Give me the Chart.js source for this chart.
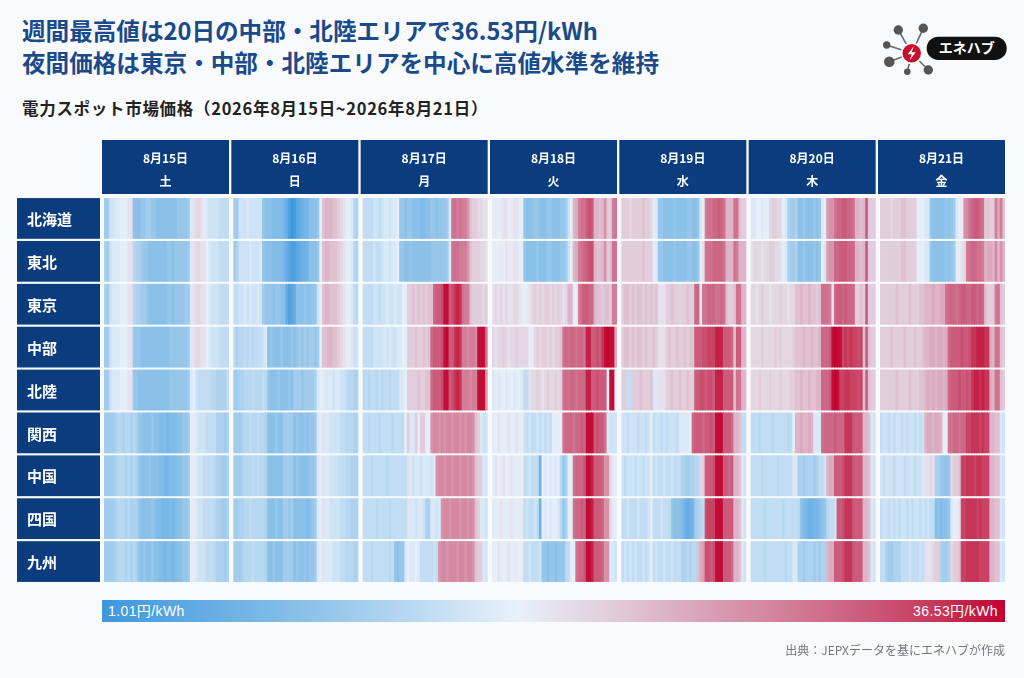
<!DOCTYPE html>
<html lang="ja">
<head>
<meta charset="utf-8">
<title>電力スポット市場価格</title>
<script src="https://cdn.jsdelivr.net/npm/chart.js@4.4.1/dist/chart.umd.min.js"></script>
<style>
  html, body { margin: 0; padding: 0; }
  body {
    width: 1024px; height: 678px; position: relative; overflow: hidden;
    background: #f9fafc;
    font-family: "Noto Sans CJK JP", "Noto Sans", sans-serif;
  }
  #heat { position: absolute; left: 0; top: 0; }
  .title {
    position: absolute; left: 22px; top: 14px; margin: 0;
    font-size: 23.6px; line-height: 32px; font-weight: 700; color: #1a4a8a;
  }
  .sub {
    position: absolute; left: 22px; top: 96px; font-size: 16.5px; font-weight: 700;
    color: #222; letter-spacing: 0.7px;
  }
  .logo { position: absolute; left: 878px; top: 16px; }
  .cbar { position: absolute; left: 102px; top: 600px; width: 903px; height: 22px; }
  .cbar span {
    position: absolute; top: 0; line-height: 22px; color: #fff; font-size: 14px;
    font-family: "Liberation Sans", "Noto Sans CJK JP", sans-serif; letter-spacing: 0.4px;
  }
  .src { position: absolute; right: 19px; top: 641px; font-size: 12px; color: #777; }
</style>
</head>
<body>
<h1 class="title">週間最高値は20日の中部・北陸エリアで36.53円/kWh<br>夜間価格は東京・中部・北陸エリアを中心に高値水準を維持</h1>
<svg class="logo" width="132" height="62" viewBox="0 0 132 62">
  <g stroke="#6a6a6a" stroke-width="1.6">
    <line x1="33.7" y1="37.3" x2="20.3" y2="14"/><line x1="33.7" y1="37.3" x2="45.3" y2="12.3"/>
    <line x1="33.7" y1="37.3" x2="8.7" y2="29"/><line x1="33.7" y1="37.3" x2="11.3" y2="45.7"/>
    <line x1="33.7" y1="37.3" x2="29.3" y2="55.7"/><line x1="33.7" y1="37.3" x2="50.3" y2="54"/>
  </g>
  <g fill="#555">
    <circle cx="20.3" cy="14" r="4.7"/><circle cx="45.3" cy="12.3" r="4.7"/>
    <circle cx="8.7" cy="29" r="3.7"/><circle cx="11.3" cy="45.7" r="5.3"/>
    <circle cx="29.3" cy="55.7" r="3.3"/><circle cx="50.3" cy="54" r="4.7"/>
  </g>
  <circle cx="33.7" cy="37.3" r="10" fill="#c8102e" stroke="#fff" stroke-width="1.5"/>
  <polygon points="35.7,30.3 29.7,38.3 33.7,38.3 31.7,44.3 37.7,36.3 33.7,36.3" fill="#fff"/>
  <rect x="48.7" y="20.7" width="80" height="23.3" rx="11.6" fill="#111"/>
  <text x="88.7" y="37.4" text-anchor="middle" fill="#fff" font-size="14" font-weight="700"
        font-family="Noto Sans CJK JP">エネハブ</text>
</svg>
<div class="sub">電力スポット市場価格（2026年8月15日~2026年8月21日）</div>
<canvas id="heat" width="1024" height="678"></canvas>
<div class="cbar" id="cbar"><span id="minLabel" style="left:6px"></span><span id="maxLabel" style="right:7px"></span></div>
<div class="src">出典：JEPXデータを基にエネハブが作成</div>
<script>
// 区分・日付
const regions = ['北海道', '東北', '東京', '中部', '北陸', '関西', '中国', '四国', '九州'];
const dates = ['8月15日', '8月16日', '8月17日', '8月18日', '8月19日', '8月20日', '8月21日'];
const weekdays = ['土', '日', '月', '火', '水', '木', '金'];

// 30分コマ毎の価格 (円/kWh)、1行 = 1日 48コマ
const hokkaido = [
  11,11,15,15,16,16,17,17,17,19,19,9,9,9,10,10,11,11,10,10,9,9,9,9,9,9,9,9,10,10,10,10,11,16,19,20,20,19,18,16,15,15,15,15,14,14,14,14,
  11,11,15,15,15,16,15,15,15,15,15,10,9,9,9,8,8,8,8,7,5,3,1.01,2,4,5,6,7,7,9,9,9,10,17,22,23,23,23,22,22,21,20,19,18,17,16,13,12,
  14,14,14,14,15,15,14,15,16,16,15,16,16,17,10,10,9,10,10,9,9,9,8,8,9,9,10,10,9,10,10,10,11,16,29,29,28,29,28,28,26,22,21,21,20,20,19,19,
  18,18,17,18,19,19,18,18,19,19,18,17,10,9,9,9,10,10,9,9,9,10,10,9,9,9,10,10,11,15,17,23,24,28,29,29,31,32,31,23,23,22,23,26,21,21,28,29,
  21,21,21,20,21,21,21,21,22,21,21,20,17,16,10,10,9,9,9,9,10,9,9,9,9,10,10,9,9,10,16,17,28,29,29,30,30,31,30,29,23,23,23,29,29,22,21,21,
  16,16,17,17,16,17,17,20,21,21,20,20,17,16,12,11,11,12,9,9,10,9,9,9,10,9,10,16,17,25,26,26,29,30,30,31,31,30,30,29,23,23,22,23,31,21,21,21,
  21,21,21,21,20,21,21,21,22,22,21,21,21,21,17,18,17,16,16,10,9,9,9,9,9,10,9,10,11,16,17,18,26,27,29,30,31,31,30,29,21,22,21,21,28,24,28,22
];
const tohoku = [
  12,11,15,16,16,16,17,17,17,19,19,13,12,12,11,10,10,9,9,9,9,9,9,9,10,10,9,10,10,10,10,10,11,16,19,20,20,19,19,17,16,15,15,15,14,14,14,14,
  11,12,15,15,15,15,16,15,15,15,16,10,9,9,9,8,8,8,8,7,5,4,3,3,4,5,6,6,7,9,9,9,10,17,22,23,23,22,22,22,21,20,19,18,17,16,13,12,
  14,14,14,14,15,14,14,15,16,16,15,16,16,17,10,10,9,9,10,9,9,9,9,9,9,9,10,10,10,10,10,10,11,16,29,29,29,28,28,28,26,22,21,21,21,20,20,19,
  17,17,18,18,18,19,18,18,19,19,18,17,10,9,9,9,9,10,9,9,9,10,10,9,9,9,10,10,11,15,17,23,24,28,29,30,31,32,32,23,22,22,23,26,21,22,29,29,
  21,21,21,21,21,21,21,21,22,21,21,21,17,16,10,10,9,9,9,9,10,9,9,9,9,10,10,9,9,10,18,19,29,29,29,30,30,30,30,29,23,23,23,29,28,23,23,23,
  19,20,20,20,19,20,20,21,21,20,20,19,17,16,12,11,11,12,9,9,10,9,9,9,10,9,10,17,19,25,26,26,30,30,31,31,31,30,30,30,23,23,22,23,31,21,21,21,
  21,21,21,21,21,21,21,21,22,22,21,21,21,21,17,18,17,16,16,10,9,9,9,9,9,10,9,10,11,17,18,19,20,28,29,30,30,29,29,28,23,24,24,23,27,23,26,23
];
const tokyo = [
  12,11,15,16,16,16,17,17,17,19,19,13,12,12,11,11,10,9,9,9,9,9,9,9,10,10,9,10,10,10,10,11,11,16,19,20,20,19,19,17,16,15,15,15,14,14,14,14,
  14,14,15,15,16,15,16,15,15,16,15,11,10,10,10,9,10,10,9,9,5,3,4,5,9,9,9,10,9,9,10,10,15,17,22,23,23,22,22,22,21,20,19,18,17,16,14,13,
  14,14,14,14,15,15,14,15,15,16,15,15,16,15,15,17,17,21,21,22,21,22,21,22,21,22,22,30,31,31,32,36,36,31,32,34,35,34,29,28,28,22,21,21,21,21,20,21,
  19,20,19,20,19,20,19,19,20,20,19,18,17,18,19,20,21,20,21,20,21,21,20,21,20,21,20,19,20,23,23,17,18,28,30,31,31,30,30,23,22,22,21,22,22,21,28,28,
  21,22,22,21,22,21,22,22,21,22,21,22,21,22,19,19,19,21,21,22,21,21,20,21,21,22,21,21,30,30,18,29,29,30,30,30,29,29,30,29,22,21,21,22,29,29,23,23,
  20,20,19,20,21,20,20,19,20,20,20,21,20,20,19,20,20,22,22,23,22,22,23,22,22,21,22,29,29,29,28,19,30,31,31,30,31,30,30,30,21,21,22,21,31,21,21,21,
  21,21,21,21,21,21,22,21,21,21,21,22,21,21,21,22,22,23,23,23,24,23,23,24,24,29,30,30,30,29,30,31,31,30,30,31,31,30,31,30,22,21,21,21,28,29,22,21
];
const chubu = [
  11,11,15,16,16,16,17,17,17,19,19,10,10,10,9,9,9,9,9,9,9,9,9,9,9,10,10,10,10,10,10,10,11,16,19,20,20,19,19,17,16,15,15,15,14,14,14,14,
  13,12,13,13,14,13,14,13,14,14,14,15,16,9,10,9,9,9,10,9,9,9,10,9,10,11,10,11,10,11,11,10,11,17,22,22,23,23,22,22,21,20,19,18,17,16,15,15,
  14,14,14,14,15,15,15,15,16,15,16,15,15,16,16,17,17,21,21,21,22,21,21,22,21,22,30,31,31,31,32,36,36.4,31,31,34,35,34,28,28,27,28,28,27,36,36,36,29,
  20,19,20,20,21,20,19,20,20,21,20,20,20,20,17,18,20,21,20,21,21,20,21,20,21,21,22,29,30,29,30,30,29,30,30,29,35,35,31,31,32,31,34,36,36.4,36,36,24,
  21,22,22,21,22,21,22,22,21,22,21,21,22,21,19,19,19,21,22,21,21,22,21,21,22,21,22,22,31,31,31,32,32,33,33,33,35,35,35,31,31,31,30,22,31,31,23,23,
  20,20,20,20,21,20,20,20,20,21,20,21,20,20,20,20,21,22,22,22,23,22,22,23,22,22,23,30,30,30,31,36,36.53,36,36,33,34,33,34,33,33,32,33,22,31,22,21,21,
  21,21,21,21,22,21,21,21,21,22,21,21,21,22,21,21,22,23,23,24,24,23,24,24,23,24,30,31,31,31,31,32,31,31,32,34,34,35,35,35,34,34,24,23,29,29,22,21
];
const hokuriku = [
  11,11,15,16,16,16,17,17,17,19,19,10,10,9,9,9,9,9,9,9,9,9,9,9,9,10,10,10,10,10,10,10,11,16,17,15,14,14,14,14,14,13,13,12,12,12,12,14,
  11,11,12,12,13,13,13,14,13,13,13,14,13,10,9,9,9,10,9,9,9,10,9,11,11,11,10,11,11,11,11,12,16,17,18,16,16,16,15,16,16,15,15,14,13,13,12,12,
  13,14,13,14,14,13,14,13,14,14,13,14,14,14,16,16,17,21,21,21,21,22,21,21,22,22,30,31,31,31,32,36,36,31,32,34,35,34,28,28,28,27,28,28,36,36,36,26,
  16,18,16,18,17,16,18,17,16,18,17,16,14,14,19,20,20,21,20,19,20,21,20,20,21,20,21,29,30,29,30,30,29,30,30,30,35,35,31,31,32,31,31,31,17,36,36,17,
  21,21,14,14,21,21,21,22,21,21,21,22,16,16,19,19,19,21,21,22,21,21,22,21,21,22,21,21,31,31,32,32,31,32,32,31,35,35,35,31,31,31,31,22,29,29,23,23,
  20,20,20,21,20,20,20,21,20,20,20,21,20,20,20,21,21,22,22,23,22,22,23,22,22,23,23,30,30,30,31,36,36.53,36,33,33,34,34,33,33,33,32,33,22,31,22,21,21,
  21,21,21,21,21,21,22,21,21,21,21,22,21,21,21,22,22,23,24,23,24,23,24,24,23,24,30,31,31,31,32,31,31,32,31,34,35,35,34,35,34,34,24,23,29,29,22,21
];
const kansai = [
  11,11,11,11,12,13,13,12,13,13,12,13,12,10,10,9,9,9,10,9,9,8,8,8,7,8,8,8,9,9,10,10,11,17,18,16,15,15,15,14,14,14,14,12,12,12,11,12,
  11,11,11,12,13,13,14,13,13,14,13,13,12,9,9,9,10,9,9,11,11,11,11,9,10,9,9,10,9,10,10,11,16,17,19,16,16,15,15,15,15,14,14,13,13,13,12,12,
  14,14,13,14,14,14,13,14,14,14,14,13,14,14,14,14,17,21,16,16,21,17,21,21,17,17,26,27,27,26,27,26,27,27,26,27,27,26,27,26,27,27,26,22,21,16,15,15,
  18,17,19,18,17,18,19,17,18,19,18,17,15,14,15,14,14,15,14,15,14,15,14,17,18,17,18,29,30,30,30,29,30,30,31,30,36,36,36,31,32,31,31,29,16,15,15,15,
  15,15,14,15,15,15,14,15,15,14,15,17,14,15,15,14,15,14,15,15,15,14,16,16,16,16,17,30,31,31,31,30,31,31,32,31,36,36,36,31,31,31,30,23,23,22,14,14,
  14,14,14,13,14,14,14,14,13,14,14,14,14,14,13,14,17,23,23,24,23,23,24,23,16,16,16,29,30,30,30,30,31,30,30,30,34,34,34,31,31,31,31,23,23,22,16,15,
  14,15,15,14,15,14,15,15,14,15,14,15,15,14,15,14,15,23,24,24,23,24,24,23,17,17,29,29,30,30,29,30,30,33,33,34,34,34,33,34,33,33,23,23,22,22,16,15
];
const chugoku = [
  11,11,11,11,12,13,13,13,12,13,12,13,12,10,9,9,9,10,9,9,9,8,8,7,7,8,8,8,9,9,10,10,11,17,18,16,15,15,14,14,14,14,13,12,12,11,11,12,
  11,11,11,12,13,13,13,14,13,14,13,13,12,9,9,9,9,9,9,11,11,11,11,9,10,9,9,9,9,10,10,11,16,17,19,16,16,15,15,15,14,14,14,13,13,12,12,12,
  14,14,14,13,14,14,14,14,14,13,14,14,14,14,14,14,14,19,16,15,16,16,15,16,16,16,15,16,26,27,27,26,27,27,26,27,27,26,27,27,26,27,26,22,21,21,16,15,
  18,19,17,18,19,17,18,19,18,17,18,18,14,14,15,14,14,14,6,17,16,17,16,17,16,17,13,10,12,17,17,29,30,30,30,31,36,36,35,31,31,31,30,26,26,20,18,17,
  15,14,15,15,15,14,15,15,14,15,15,17,14,15,14,14,15,14,14,15,14,14,14,12,12,11,12,12,13,13,20,21,31,31,31,32,36,36,36,31,31,30,31,23,23,22,16,15,
  14,14,14,14,13,14,14,14,14,14,13,14,14,14,14,14,16,16,12,12,11,12,12,12,11,12,14,14,15,23,24,24,31,31,31,32,34,34,34,31,31,31,31,23,23,22,16,15,
  15,14,15,15,15,14,15,15,15,14,15,15,15,14,15,15,16,19,19,20,19,12,12,10,10,9,10,20,21,21,22,33,33,34,34,34,33,34,34,33,33,33,23,23,22,22,16,15
];
const shikoku = [
  11,11,11,11,12,13,13,13,12,13,12,12,12,10,9,9,9,9,10,9,8,8,7,7,7,8,7,8,9,9,10,10,11,17,18,16,15,15,14,14,14,14,13,12,12,11,11,12,
  11,11,12,12,13,13,14,13,13,13,13,13,12,9,9,9,10,9,9,11,11,10,11,9,9,9,9,9,8,9,10,11,16,17,19,16,16,15,15,15,15,14,14,13,13,12,12,12,
  14,14,14,14,14,13,14,14,14,14,13,14,14,14,14,14,14,19,16,16,15,16,16,15,12,12,16,16,15,16,26,27,27,26,27,27,27,26,27,27,26,27,26,22,21,16,16,15,
  18,18,17,19,18,17,18,19,18,17,18,18,14,15,14,14,15,14,6,17,16,17,16,17,17,16,13,10,12,17,17,29,30,30,31,30,36,36,35,31,31,31,30,26,26,20,18,17,
  14,14,15,14,14,14,15,14,14,14,15,17,14,14,14,15,14,14,14,10,9,9,9,8,6,5,6,7,11,12,13,14,32,33,33,33,36,36,36,31,31,31,31,23,23,22,16,15,
  14,14,14,14,14,13,14,14,14,14,14,14,13,14,14,14,14,14,13,9,8,7,6,6,7,7,8,9,10,13,14,14,15,31,31,32,34,34,34,31,31,31,31,23,23,22,16,15,
  14,15,15,14,15,14,15,14,15,15,14,15,14,15,15,14,15,14,15,14,14,9,9,8,9,9,10,16,17,18,19,33,33,34,34,34,34,33,34,33,33,33,23,23,22,22,16,15
];
const kyushu = [
  11,11,11,11,12,13,13,13,12,13,12,13,12,10,9,10,9,9,10,9,9,8,8,7,8,8,7,8,9,9,10,10,11,17,18,16,15,15,15,14,14,14,13,12,12,12,11,12,
  11,11,11,12,13,13,13,14,13,13,13,13,12,9,9,10,9,9,9,11,11,11,11,9,10,9,9,10,9,10,10,11,16,17,19,16,16,16,15,15,15,14,14,13,13,13,12,12,
  14,14,14,13,14,14,14,14,14,14,13,14,10,9,10,10,16,17,16,16,17,16,14,14,14,14,14,15,14,26,27,27,26,27,27,27,26,27,27,26,27,27,26,22,21,21,16,15,
  18,17,19,18,17,18,19,17,18,18,17,18,14,14,15,14,14,14,15,10,10,9,10,10,9,10,10,10,13,14,17,17,29,30,30,31,36,36,35,31,31,31,30,26,26,16,16,15,
  14,15,14,15,14,15,14,14,15,14,15,17,14,15,14,14,15,14,14,15,14,14,14,12,12,13,12,13,13,22,24,25,32,32,31,32,36,36,36,31,31,31,30,23,23,22,16,15,
  14,14,14,14,14,13,14,14,14,14,14,14,14,13,14,14,16,16,12,12,11,12,12,12,11,12,11,12,12,23,24,24,31,31,31,32,34,34,34,31,31,31,31,23,23,22,16,15,
  14,14,12,11,11,12,12,12,14,14,14,15,14,14,14,15,14,19,19,19,20,21,21,12,11,11,12,20,21,21,22,33,33,34,34,34,34,34,33,33,33,33,23,23,22,22,16,15
];

const series = [hokkaido, tohoku, tokyo, chubu, hokuriku, kansai, chugoku, shikoku, kyushu];
const SLOTS = 48;
const GAP = 1.66;   // 日と日の間の余白 (コマ単位)
const NAVY = '#0b3d7e';

const allValues = series.flat();
const vMin = Math.min(...allValues);
const vMax = Math.max(...allValues);

// 青 → 白 → 赤
const stops = [
  [0, '#3d97dc'], [0.22, '#89c0e9'], [0.35, '#bcdaf2'], [0.46, '#e8f1fa'],
  [0.56, '#e2cedd'], [0.68, '#d99cb2'], [0.82, '#cd6685'], [0.92, '#c73a5c'], [1, '#c1032f']
];
function rgb(h) {
  return [1, 3, 5].map(i => parseInt(h.substr(i, 2), 16));
}
function colorFor(v) {
  const f = Math.max(0, Math.min(1, (v - vMin) / (vMax - vMin)));
  let i = 0;
  while (i < stops.length - 2 && f > stops[i + 1][0]) i++;
  const [f0, c0] = stops[i], [f1, c1] = stops[i + 1];
  const t = (f - f0) / (f1 - f0);
  const a = rgb(c0), b = rgb(c1);
  return 'rgb(' + a.map((x, k) => Math.round(x + (b[k] - x) * t)).join(',') + ')';
}

document.getElementById('cbar').style.background =
  'linear-gradient(to right,' + stops.map(s => s[1] + ' ' + (s[0] * 100) + '%').join(',') + ')';
document.getElementById('minLabel').textContent = vMin.toFixed(2) + '円/kWh';
document.getElementById('maxLabel').textContent = vMax.toFixed(2) + '円/kWh';

const datasets = series.map((vals, r) => ({
  label: regions[r],
  data: vals.map((v, i) => {
    const d = Math.floor(i / SLOTS), s = i % SLOTS;
    const x0 = d * (SLOTS + GAP) + s;
    return { x: [x0, x0 + (s < SLOTS - 1 ? 1.4 : 1)], y: regions[r], v: v };
  }),
  backgroundColor: c => colorFor(c.raw.v),
  borderWidth: 0,
  barPercentage: 1,
  categoryPercentage: 0.95,
  grouped: false
}));

// 列見出し (日付・曜日) と行見出し (エリア)
const headerPlugin = {
  id: 'headers',
  afterDraw(chart) {
    const { ctx, chartArea, scales: { x, y } } = chart;
    ctx.save();
    ctx.textAlign = 'center';
    ctx.textBaseline = 'middle';
    dates.forEach((label, d) => {
      const l = x.getPixelForValue(d * (SLOTS + GAP)) - 2;
      const r = x.getPixelForValue(d * (SLOTS + GAP) + SLOTS);
      const top = chartArea.top - 57;
      ctx.fillStyle = NAVY;
      ctx.fillRect(l, top, r - l, 54);
      ctx.fillStyle = '#fff';
      ctx.font = 'bold 12px "Noto Sans CJK JP"';
      ctx.fillText(label, (l + r) / 2, top + 18);
      ctx.fillText(weekdays[d], (l + r) / 2, top + 41);
    });
    const band = y.getPixelForValue(1) - y.getPixelForValue(0);
    const h = band * 0.95;
    ctx.textAlign = 'left';
    regions.forEach((name, r) => {
      const yc = y.getPixelForValue(r);
      ctx.fillStyle = NAVY;
      ctx.fillRect(17, yc - h / 2, 83, h);
      ctx.fillStyle = '#fff';
      ctx.font = 'bold 15px "Noto Sans CJK JP"';
      ctx.fillText(name, 27, yc + 1);
    });
    ctx.restore();
  }
};

new Chart(document.getElementById('heat'), {
  type: 'bar',
  data: { labels: regions, datasets: datasets },
  options: {
    indexAxis: 'y',
    responsive: false,
    animation: false,
    layout: { padding: { left: 104, top: 197, right: 19, bottom: 95 } },
    scales: {
      x: { type: 'linear', min: 0, max: 7 * SLOTS + 6 * GAP, display: false },
      y: { type: 'category', display: false }
    },
    plugins: { legend: { display: false }, tooltip: { enabled: false } }
  },
  plugins: [headerPlugin]
});
</script>
</body>
</html>
